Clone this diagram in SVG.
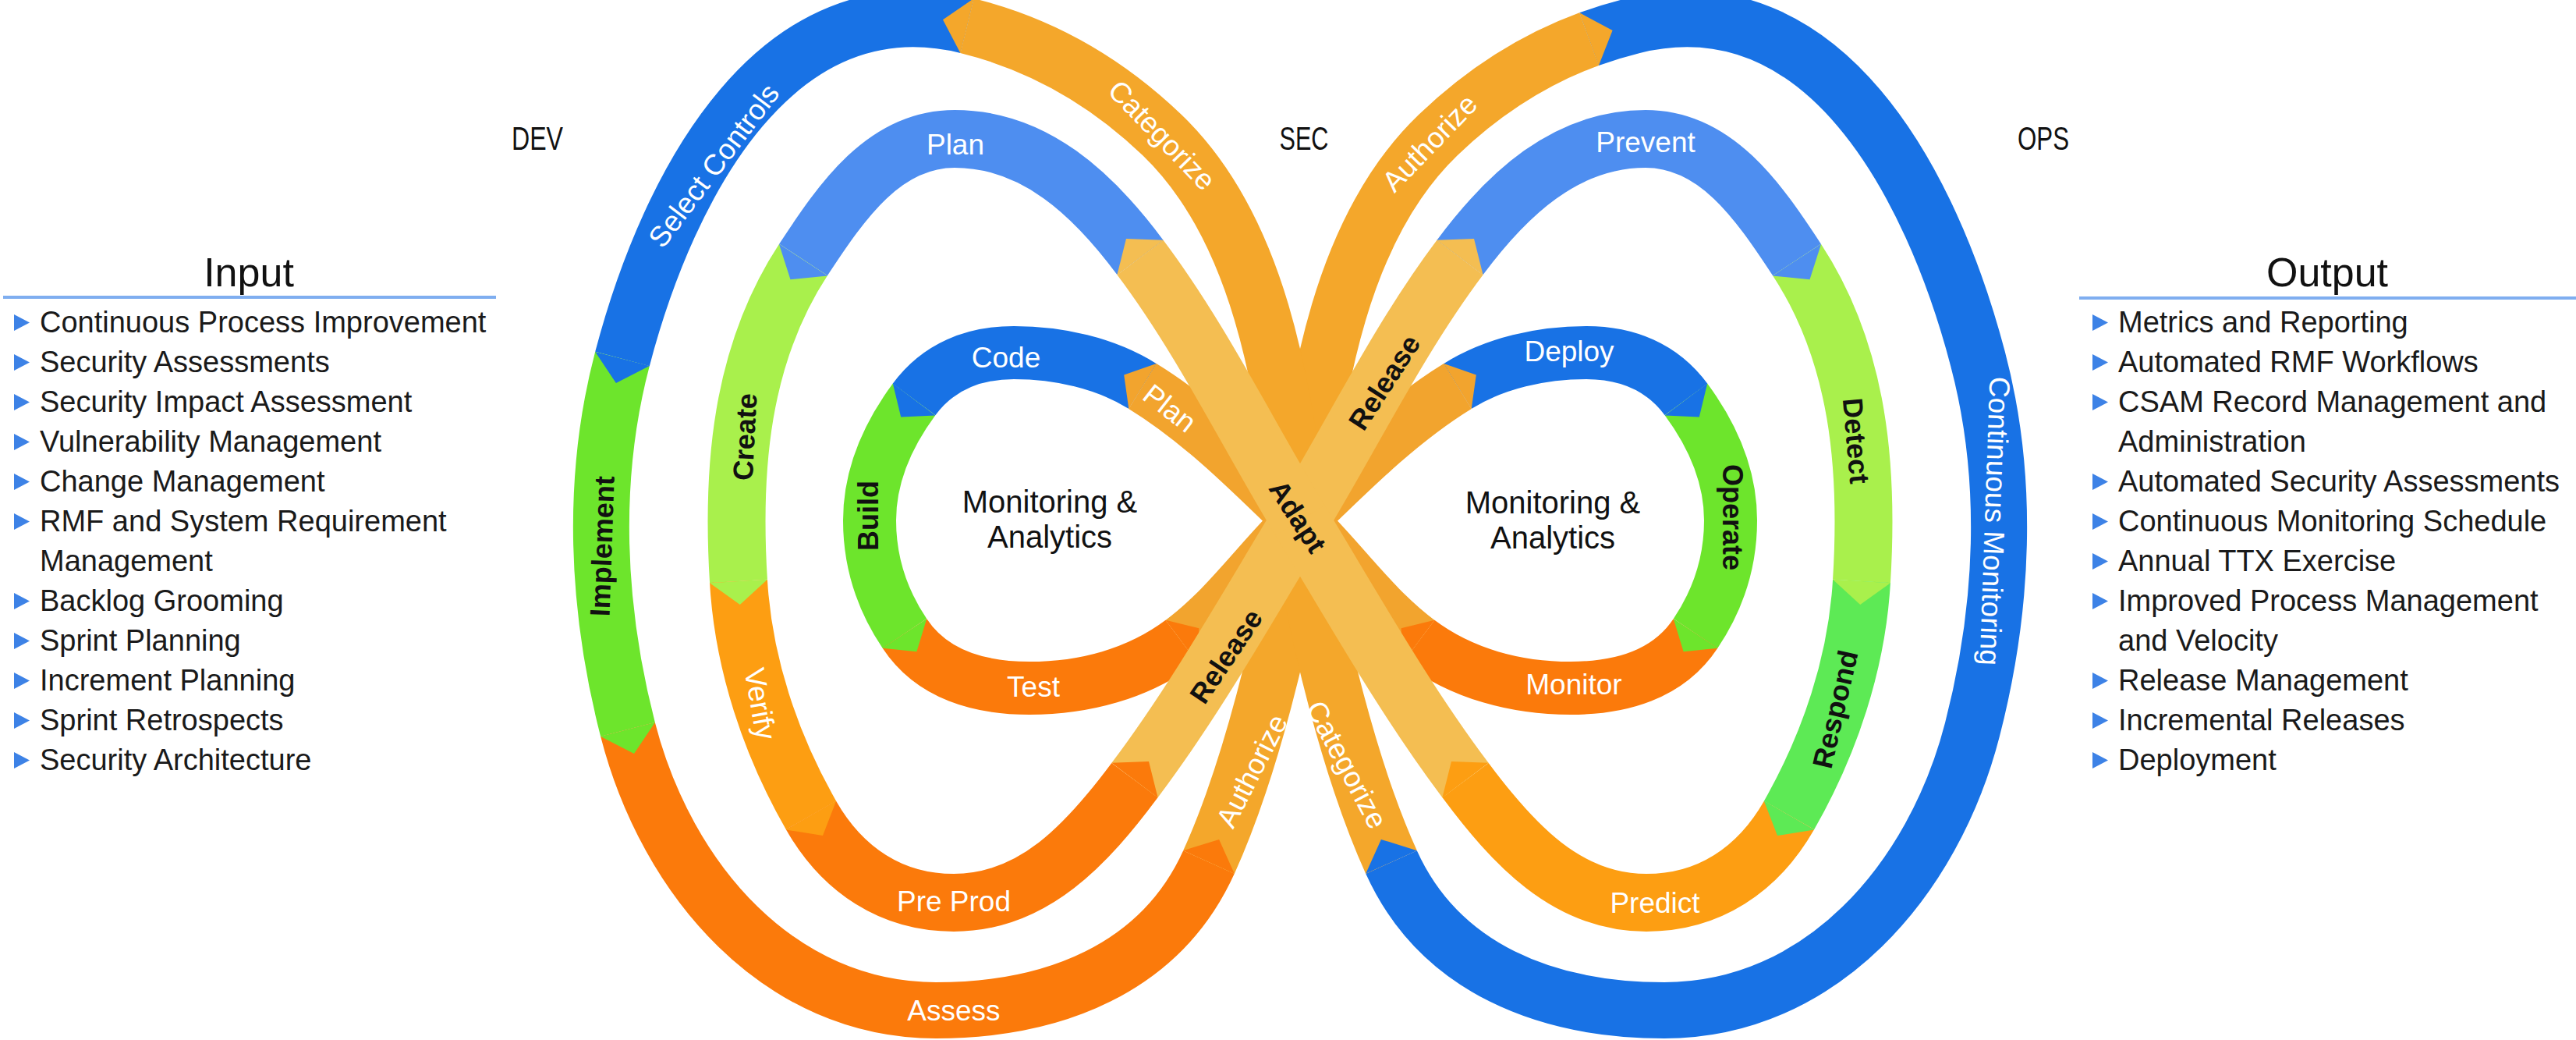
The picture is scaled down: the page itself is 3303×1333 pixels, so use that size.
<svg xmlns="http://www.w3.org/2000/svg" width="3303" height="1333" viewBox="0 0 3303 1333">
<style>
.b{fill:none;stroke-linecap:butt;stroke-linejoin:round}
.o{stroke-width:72}.m{stroke-width:74}.i{stroke-width:68}
.s-blue{stroke:#1872E5}.s-green{stroke:#6DE52C}.s-red{stroke:#FB7A0B}.s-orng{stroke:#F4A72B}
.s-lblue{stroke:#4E8EF0}.s-lgreen{stroke:#A9F04C}.s-yorng{stroke:#FD9E12}.s-lorng{stroke:#F4BE52}
.s-green2{stroke:#5DEA55}.s-iorng{stroke:#F2A42E}
.f-blue{fill:#1872E5}.f-green{fill:#6DE52C}.f-red{fill:#FB7A0B}.f-orng{fill:#F4A72B}
.f-lblue{fill:#4E8EF0}.f-lgreen{fill:#A9F04C}.f-yorng{fill:#FD9E12}.f-lorng{fill:#F4BE52}
.f-green2{fill:#5DEA55}.f-iorng{fill:#F2A42E}
text{font-family:"Liberation Sans",Arial,sans-serif}
.lw{fill:#fff;font-size:37px;text-anchor:middle}
.lk{fill:#111;font-size:36px;font-weight:bold;text-anchor:middle}
.hd{fill:#111;font-size:42px;text-anchor:middle}
.ma{fill:#111;font-size:40px;text-anchor:middle}
.tt{fill:#111;font-size:52px;text-anchor:middle}
.it{fill:#1a1a1a;font-size:38px}
.ul{stroke:#7FAEF0;stroke-width:4}
</style>
<defs>
<polygon id="bul" points="0,0 20,10.5 0,21" fill="#3D82E6"/>
</defs>

<!-- Outer lobes -->
<g id="n-select"><path class="b o s-blue" d="M1240,33 C997,-27 858,232 798,460"/><text class="lw" transform="translate(915,212) rotate(-53)" dy="0.35em">Select Controls</text></g>
<g id="n-implement"><path class="b o s-green" d="M798,460 C757,615 765,780 805,935"/><text class="lk" transform="translate(772,700) rotate(-88)" dy="0.35em">Implement</text></g>
<g id="n-assess"><path class="b o s-red" d="M805,935 C855,1129 1000,1295 1200,1295 C1350,1295 1488,1242 1550,1105"/><text class="lw" x="1223" y="1295" dy="0.35em">Assess</text></g>
<g id="n-continuous-monitoring"><path class="b o s-blue" transform="matrix(-1 0 0 1 3334 0)" d="M1296.4,50.1 C1278.2,43.5 1259.4,37.8 1240,33 C997,-27 858,232 798,460 C757,615 765,780 805,935 C855,1129 1000,1295 1200,1295 C1350,1295 1488,1242 1550,1105"/><text class="lw" transform="translate(2558,668) rotate(92)" dy="0.35em">Continuous Monitoring</text></g>

<!-- Middle lobes -->
<g id="n-plan"><path class="b m s-lblue" d="M1462,330 C1401,248 1326,178 1224,178 C1134,178 1080,257 1030,333"/><text class="lw" x="1225" y="185" dy="0.35em">Plan</text></g>
<g id="n-create"><path class="b m s-lgreen" d="M1030,333 C950,455 938,600 947,745"/><text class="lk" transform="translate(955,560) rotate(-87)" dy="0.35em">Create</text></g>
<g id="n-verify"><path class="b m s-yorng" d="M947,745 C953,850 988,954 1040,1045"/><text class="lw" transform="translate(975,902) rotate(80)" dy="0.35em">Verify</text></g>
<g id="n-preprod"><path class="b m s-red" d="M1040,1045 C1080,1115 1143,1157 1223,1157 C1325,1157 1394,1082 1455,1000"/><text class="lw" x="1223" y="1155" dy="0.35em">Pre Prod</text></g>
<g id="n-prevent"><path class="b m s-lblue" transform="matrix(-1 0 0 1 3334 0)" d="M1462,330 C1401,248 1326,178 1224,178 C1134,178 1080,257 1030,333"/><text class="lw" x="2110" y="182" dy="0.35em">Prevent</text></g>
<g id="n-detect"><path class="b m s-lgreen" transform="matrix(-1 0 0 1 3334 0)" d="M1030,333 C950,455 938,600 947,745"/><text class="lk" transform="translate(2380,565) rotate(85)" dy="0.35em">Detect</text></g>
<g id="n-respond"><path class="b m s-green2" transform="matrix(-1 0 0 1 3334 0)" d="M947,745 C953,850 988,954 1040,1045"/><text class="lk" transform="translate(2353,909) rotate(-77)" dy="0.35em">Respond</text></g>
<g id="n-predict"><path class="b m s-yorng" transform="matrix(-1 0 0 1 3334 0)" d="M1040,1045 C1080,1115 1143,1157 1223,1157 C1325,1157 1394,1082 1455,1000"/><text class="lw" x="2122" y="1157" dy="0.35em">Predict</text></g>

<!-- Inner lobes -->
<g id="n-code"><path class="b i s-blue" d="M1465,495 C1417,465 1357,452 1300,452 C1248,452 1203,470 1172,512"/><text class="lw" x="1290" y="458" dy="0.35em">Code</text></g>
<g id="n-build"><path class="b i s-green" d="M1172,512 C1138,558 1115,610 1115,667 C1115,719 1131,769 1160,812"/><text class="lk" transform="translate(1113,661) rotate(-90)" dy="0.35em">Build</text></g>
<g id="n-test"><path class="b i s-red" d="M1160,812 C1195,865 1256,882 1320,882 C1390,882 1459,864 1515,822"/><text class="lw" x="1325" y="880" dy="0.35em">Test</text></g>
<g id="n-deploy"><path class="b i s-blue" transform="matrix(-1 0 0 1 3334 0)" d="M1465,495 C1417,465 1357,452 1300,452 C1248,452 1203,470 1172,512"/><text class="lw" x="2012" y="450" dy="0.35em">Deploy</text></g>
<g id="n-operate"><path class="b i s-green" transform="matrix(-1 0 0 1 3334 0)" d="M1172,512 C1138,558 1115,610 1115,667 C1115,719 1131,769 1160,812"/><text class="lk" transform="translate(2222,663) rotate(90)" dy="0.35em">Operate</text></g>
<g id="n-monitor"><path class="b i s-red" transform="matrix(-1 0 0 1 3334 0)" d="M1160,812 C1195,865 1256,882 1320,882 C1390,882 1459,864 1515,822"/><text class="lw" x="2018" y="877" dy="0.35em">Monitor</text></g>

<!-- Outer crossing -->
<g id="n-authorize"><path class="b o s-orng" d="M1550,1105 C1600,995 1649,810 1667,667"/><path class="b o s-orng" transform="matrix(-1 0 0 1 3334 0)" d="M1667,667 C1645,494 1616,294 1490,173 C1432.4,117.8 1369,76.7 1296.4,50.1"/><text class="lw" transform="translate(1605,988) rotate(-63)" dy="0.35em">Authorize</text><text class="lw" transform="translate(1833,183) rotate(-46)" dy="0.35em">Authorize</text></g>
<g id="n-categorize"><path class="b o s-orng" d="M1667,667 C1645,494 1616,294 1490,173 C1418,104 1337,57 1240,33"/><path class="b o s-orng" transform="matrix(-1 0 0 1 3334 0)" d="M1550,1105 C1600,995 1649,810 1667,667"/><text class="lw" transform="translate(1490,173) rotate(46)" dy="0.35em">Categorize</text><text class="lw" transform="translate(1727,980) rotate(62)" dy="0.35em">Categorize</text></g>

<!-- Inner crossing -->
<g id="n-release-inner"><path class="b i s-iorng" d="M1515,822 C1573,779 1615,717 1667,667"/><path class="b i s-iorng" transform="matrix(-1 0 0 1 3334 0)" d="M1667,667 C1604,606 1540,541 1465,495"/></g>
<g id="n-plan-inner"><path class="b i s-iorng" d="M1667,667 C1604,606 1540,541 1465,495"/><path class="b i s-iorng" transform="matrix(-1 0 0 1 3334 0)" d="M1515,822 C1573,779 1615,717 1667,667"/><text class="lw" transform="translate(1500,523) rotate(38)" dy="0.35em">Plan</text></g>

<g id="connectors-under">
<polygon class="f-orng" points="1248.6,-1.9 1209,25.3 1231.4,67.9"/>
<polygon class="f-blue" points="763.2,450.9 789.9,490.9 832.8,469.1"/>
<polygon class="f-green" points="770.1,944 813,966 839.9,926"/>
<polygon class="f-red" points="1582.8,1119.8 1563.1,1075.9 1517.2,1090.2"/>
<polygon class="f-orng" points="2049.9,83.9 2067.6,39.1 2025.3,16.3"/>
<polygon class="f-blue" points="1751.2,1119.8 1770.9,1075.9 1816.8,1090.2"/>
<polygon class="f-iorng" points="1482.7,466.1 1441.2,480.4 1447.3,523.9"/>
<polygon class="f-blue" points="1144.8,491.6 1155.2,534.4 1199.2,532.4"/>
<polygon class="f-green" points="1131.8,830.7 1175.4,835.2 1188.2,793.3"/>
<polygon class="f-red" points="1535.4,849.2 1537.4,805.2 1494.6,794.8"/>
<polygon class="f-iorng" points="1851.3,466.1 1892.8,480.4 1886.7,523.9"/>
<polygon class="f-blue" points="2189.2,491.6 2178.8,534.4 2134.8,532.4"/>
<polygon class="f-green" points="2202.2,830.7 2158.6,835.2 2145.8,793.3"/>
<polygon class="f-red" points="1798.6,849.2 1796.6,805.2 1839.4,794.8"/>
</g>

<!-- Middle crossing -->
<g id="n-release"><path class="b m s-lorng" d="M1455,1000 C1534,895 1599,779 1667,667"/><path class="b m s-lorng" transform="matrix(-1 0 0 1 3334 0)" d="M1667,667 C1599,555 1541,435 1462,330"/><text class="lk" transform="translate(1572,841) rotate(-56)" dy="0.35em">Release</text><text class="lk" transform="translate(1775,490) rotate(-57)" dy="0.35em">Release</text></g>
<g id="n-adapt"><path class="b m s-lorng" d="M1667,667 C1599,555 1541,435 1462,330"/><path class="b m s-lorng" transform="matrix(-1 0 0 1 3334 0)" d="M1455,1000 C1534,895 1599,779 1667,667"/><text class="lk" transform="translate(1664,662) rotate(57)" dy="0.35em">Adapt</text></g>

<g id="connectors">
<polygon class="f-lorng" points="1491.6,307.8 1444,306 1432.4,352.2"/>
<polygon class="f-lblue" points="998.9,312.7 1013.5,358.2 1061.1,353.4"/>
<polygon class="f-lgreen" points="910,747.2 948.8,775 984,742.8"/>
<polygon class="f-yorng" points="1007.8,1063.5 1055,1071.1 1072.2,1026.5"/>
<polygon class="f-red" points="1484.6,1022.2 1473,976 1425.4,977.8"/>
<polygon class="f-lorng" points="1842.4,307.8 1890,306 1901.6,352.2"/>
<polygon class="f-lblue" points="2335.1,312.7 2320.5,358.2 2272.9,353.4"/>
<polygon class="f-lgreen" points="2424,747.2 2385.2,775 2350,742.8"/>
<polygon class="f-green2" points="2326.2,1063.5 2279,1071.1 2261.8,1026.5"/>
<polygon class="f-yorng" points="1849.4,1022.2 1861,976 1908.6,977.8"/>
</g>

<g id="headings">
<text class="hd" x="689" y="192" textLength="66" lengthAdjust="spacingAndGlyphs">DEV</text>
<text class="hd" x="1672" y="192" textLength="63" lengthAdjust="spacingAndGlyphs">SEC</text>
<text class="hd" x="2620" y="192" textLength="66" lengthAdjust="spacingAndGlyphs">OPS</text>
</g>
<g id="center-left"><text class="ma" x="1346" y="657">Monitoring &amp;</text><text class="ma" x="1346" y="702">Analytics</text></g>
<g id="center-right"><text class="ma" x="1991" y="658">Monitoring &amp;</text><text class="ma" x="1991" y="703">Analytics</text></g>

<g id="input">
<text class="tt" x="319" y="367">Input</text>
<line class="ul" x1="4" y1="381" x2="636" y2="381"/>
<use href="#bul" x="18" y="403"/><text class="it" x="51" y="426">Continuous Process Improvement</text>
<use href="#bul" x="18" y="454"/><text class="it" x="51" y="477">Security Assessments</text>
<use href="#bul" x="18" y="505"/><text class="it" x="51" y="528">Security Impact Assessment</text>
<use href="#bul" x="18" y="556"/><text class="it" x="51" y="579">Vulnerability Management</text>
<use href="#bul" x="18" y="607"/><text class="it" x="51" y="630">Change Management</text>
<use href="#bul" x="18" y="658"/><text class="it" x="51" y="681">RMF and System Requirement</text>
<text class="it" x="51" y="732">Management</text>
<use href="#bul" x="18" y="760"/><text class="it" x="51" y="783">Backlog Grooming</text>
<use href="#bul" x="18" y="811"/><text class="it" x="51" y="834">Sprint Planning</text>
<use href="#bul" x="18" y="862"/><text class="it" x="51" y="885">Increment Planning</text>
<use href="#bul" x="18" y="913"/><text class="it" x="51" y="936">Sprint Retrospects</text>
<use href="#bul" x="18" y="964"/><text class="it" x="51" y="987">Security Architecture</text>
</g>

<g id="output">
<text class="tt" x="2984" y="367">Output</text>
<line class="ul" x1="2666" y1="382" x2="3303" y2="382"/>
<use href="#bul" x="2683" y="403"/><text class="it" x="2716" y="426">Metrics and Reporting</text>
<use href="#bul" x="2683" y="454"/><text class="it" x="2716" y="477">Automated RMF Workflows</text>
<use href="#bul" x="2683" y="505"/><text class="it" x="2716" y="528">CSAM Record Management and</text>
<text class="it" x="2716" y="579">Administration</text>
<use href="#bul" x="2683" y="607"/><text class="it" x="2716" y="630">Automated Security Assessments</text>
<use href="#bul" x="2683" y="658"/><text class="it" x="2716" y="681">Continuous Monitoring Schedule</text>
<use href="#bul" x="2683" y="709"/><text class="it" x="2716" y="732">Annual TTX Exercise</text>
<use href="#bul" x="2683" y="760"/><text class="it" x="2716" y="783">Improved Process Management</text>
<text class="it" x="2716" y="834">and Velocity</text>
<use href="#bul" x="2683" y="862"/><text class="it" x="2716" y="885">Release Management</text>
<use href="#bul" x="2683" y="913"/><text class="it" x="2716" y="936">Incremental Releases</text>
<use href="#bul" x="2683" y="964"/><text class="it" x="2716" y="987">Deployment</text>
</g>
</svg>
